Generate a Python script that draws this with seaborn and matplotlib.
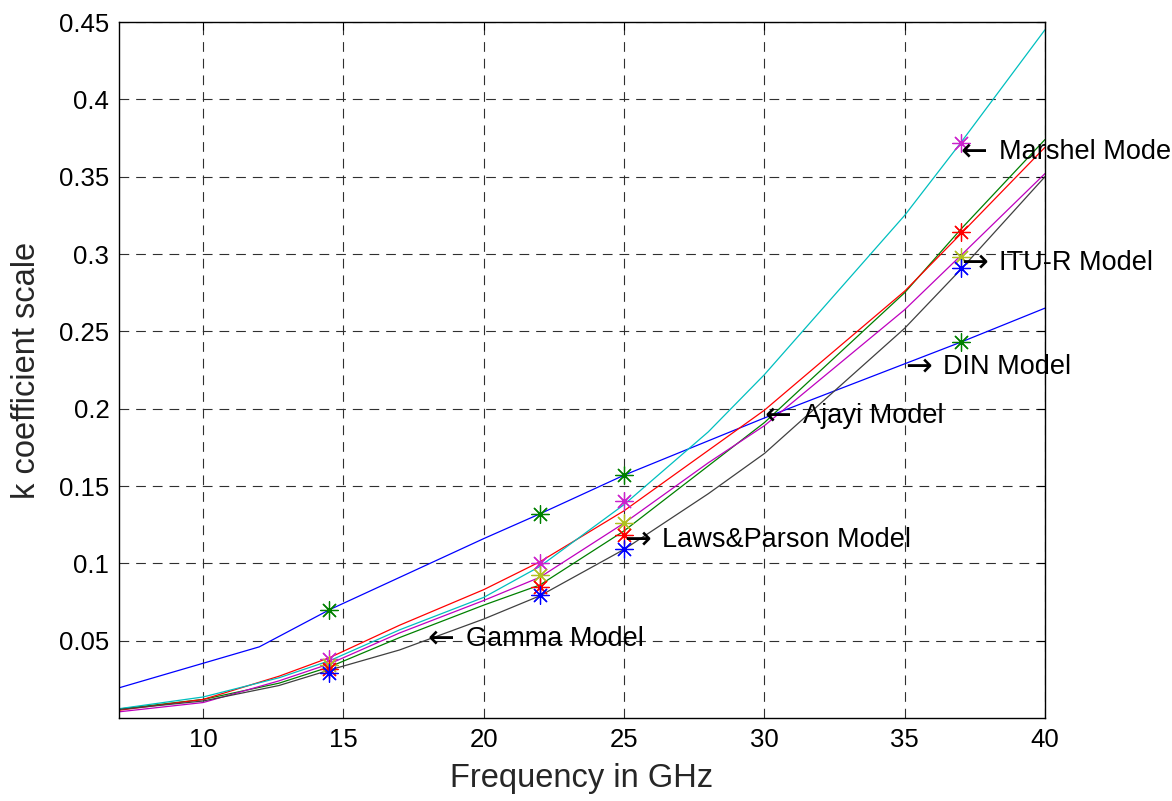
import matplotlib
matplotlib.use("Agg")
import matplotlib.pyplot as plt
from matplotlib.transforms import offset_copy
import pandas as pd
import seaborn as sns

# ---- data ----
freq = [7, 10, 12.7, 14.5, 17, 20, 22, 25, 28, 30, 35, 37, 40]
k_marshel = [0.006, 0.0136, 0.026, 0.037, 0.057, 0.078, 0.098, 0.138, 0.185, 0.222, 0.325, 0.372, 0.445]
k_red = [0.005, 0.012, 0.027, 0.039, 0.060, 0.083, 0.101, 0.134, 0.173, 0.199, 0.276, 0.313, 0.369]
k_magenta = [0.004, 0.010, 0.024, 0.035, 0.055, 0.076, 0.091, 0.126, 0.165, 0.189, 0.264, 0.299, 0.352]
k_green = [0.0058, 0.012, 0.0225, 0.033, 0.052, 0.073, 0.086, 0.121, 0.163, 0.191, 0.275, 0.316, 0.374]
k_gray = [0.0055, 0.011, 0.021, 0.031, 0.044, 0.064, 0.079, 0.109, 0.145, 0.171, 0.252, 0.290, 0.350]

din_freq = [7, 12, 14.5, 20, 22, 25, 30, 37, 40]
k_din = [0.0195, 0.046, 0.070, 0.116, 0.132, 0.157, 0.194, 0.243, 0.265]

meas_freq = [14.5, 22, 25, 37]
meas_green = [0.070, 0.132, 0.157, 0.243]
meas_magenta = [0.038, 0.100, 0.140, 0.372]
meas_olive = [0.034, 0.0925, 0.126, 0.298]
meas_red = [0.032, 0.085, 0.118, 0.314]
meas_blue = [0.029, 0.0795, 0.109, 0.291]

x_ticks = [10, 15, 20, 25, 30, 35, 40]
y_ticks = [0.05, 0.1, 0.15, 0.2, 0.25, 0.3, 0.35, 0.4, 0.45]
y_ticklabels = ["0.05", "0.1", "0.15", "0.2", "0.25", "0.3", "0.35", "0.4", "0.45"]

label_names = ["Marshel Model", "ITU-R Model", "DIN Model", "Ajayi Model",
               "Laws&Parson Model", "Gamma Model"]
label_arrows = ["\u2190", "\u2192", "\u2192", "\u2190", "\u2192", "\u2190"]
label_x = [37, 37, 35, 30, 25, 18]
label_y = [0.366, 0.294, 0.227, 0.195, 0.115, 0.051]

# ---- style ----
sns.set_theme(style="white")
plt.rcParams['font.family'] = ['Liberation Sans', 'DejaVu Sans']
plt.rcParams['lines.scale_dashes'] = False

fig = plt.figure(figsize=(11.72, 8.01), dpi=100)
ax = fig.add_axes([119 / 1172, 1 - 718 / 801, (1045 - 119) / 1172, (718 - 22) / 801])

lw = 0.9
sns.lineplot(x=din_freq, y=k_din, color="#0000ff", lw=lw, ax=ax, estimator=None)
sns.lineplot(x=freq, y=k_green, color="#008000", lw=lw, ax=ax, estimator=None)
sns.lineplot(x=freq, y=k_red, color="#ff0000", lw=lw, ax=ax, estimator=None)
sns.lineplot(x=freq, y=k_marshel, color="#00bfbf", lw=lw, ax=ax, estimator=None)
sns.lineplot(x=freq, y=k_magenta, color="#bf00bf", lw=lw, ax=ax, estimator=None)
sns.lineplot(x=freq, y=k_gray, color="#404040", lw=lw, ax=ax, estimator=None)

ast = (8, 2, 0)
for vals, c in [(meas_green, "#008000"), (meas_magenta, "#cc22cc"),
                (meas_olive, "#b0c020"), (meas_red, "#ff0000"),
                (meas_blue, "#0000ff")]:
    sns.scatterplot(x=meas_freq, y=vals, color=c, marker=ast, s=160,
                    linewidth=0.9, ax=ax, zorder=3)

label_tr = offset_copy(ax.transData, fig=fig, x=27.5, y=0, units="points")
for name, arr, x, y in zip(label_names, label_arrows, label_x, label_y):
    ax.text(x, y, arr, ha="left", va="center", fontsize=23,
            family="DejaVu Sans", color="black")
    ax.text(x, y, name, ha="left", va="center", fontsize=19.5,
            color="black", transform=label_tr)

ax.set_xlim(7, 40)
ax.set_ylim(0, 0.45)
ax.set_xticks(x_ticks)
ax.set_xticklabels([str(v) for v in x_ticks])
ax.set_yticks(y_ticks)
ax.set_yticklabels(y_ticklabels)
ax.grid(True, color="#303030", linestyle=(0, (7, 5)), linewidth=0.8)
ax.set_axisbelow(True)
ax.tick_params(direction="in", length=6, width=0.8, top=True, right=True,
               labelsize=18.5, pad=7, colors="black")
for sp in ax.spines.values():
    sp.set_visible(True)
    sp.set_color("black")
    sp.set_linewidth(1.0)

ax.set_xlabel("Frequency in GHz", fontsize=23.5, labelpad=8)
ax.set_ylabel("k coefficient scale", fontsize=23.5, labelpad=12)

fig.savefig("out.png", dpi=100)
